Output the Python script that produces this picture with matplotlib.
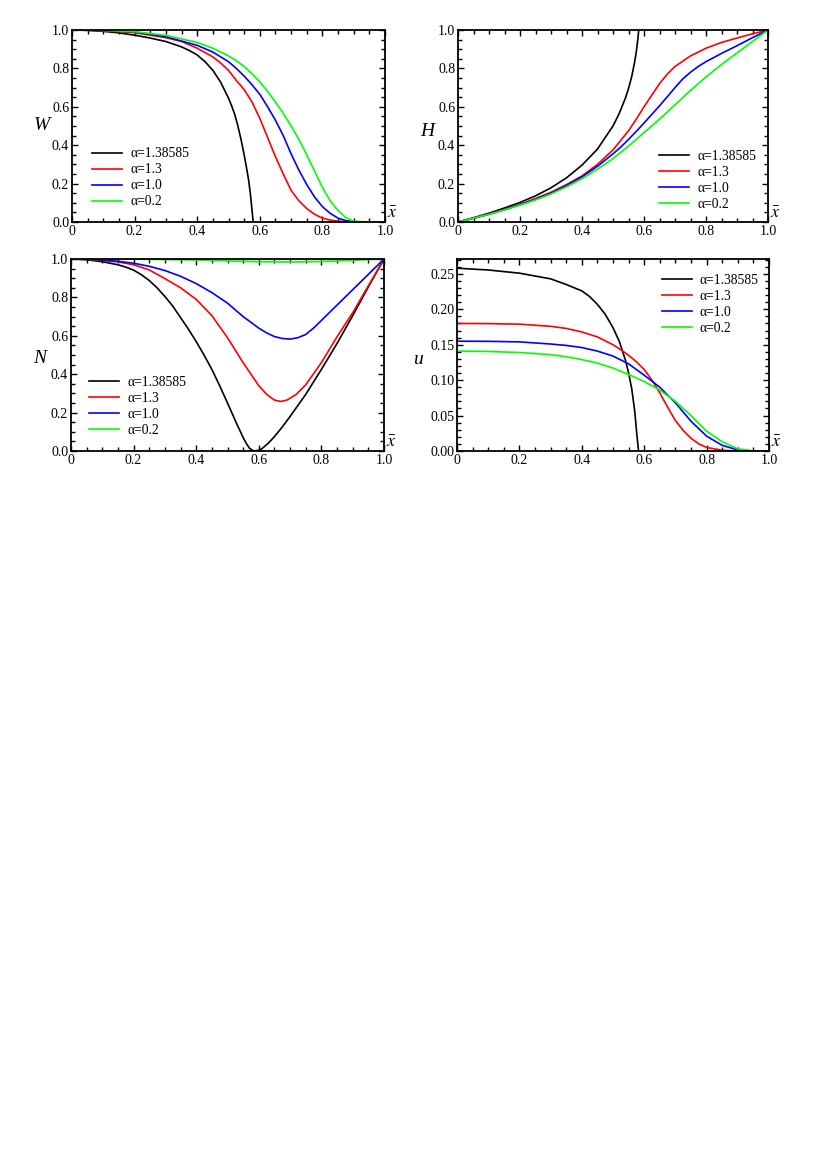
import matplotlib
matplotlib.use('Agg')
import matplotlib.pyplot as plt
from matplotlib.ticker import MultipleLocator, FixedLocator, FixedFormatter

plt.rcParams['font.family'] = ['Liberation Serif', 'DejaVu Serif']
plt.rcParams['mathtext.fontset'] = 'stix'

labels = ['α=1.38585', 'α=1.3', 'α=1.0', 'α=0.2']
colors = ['black', '#ff0000', '#0000ff', '#00ff00']

# ---- W ----
W_x = [
    [0, 0.05, 0.1, 0.15, 0.2, 0.25, 0.3, 0.35, 0.375, 0.4, 0.425, 0.45, 0.475, 0.5, 0.51, 0.52, 0.53, 0.54, 0.55, 0.56, 0.565, 0.57, 0.574, 0.577, 0.579],
    [0, 0.1, 0.2, 0.3, 0.35, 0.4, 0.45, 0.475, 0.5, 0.525, 0.55, 0.575, 0.6, 0.625, 0.65, 0.675, 0.7, 0.725, 0.75, 0.775, 0.8, 0.825, 0.85, 0.9, 1.0],
    [0, 0.1, 0.2, 0.3, 0.4, 0.45, 0.5, 0.525, 0.55, 0.575, 0.6, 0.625, 0.65, 0.675, 0.7, 0.725, 0.75, 0.775, 0.8, 0.825, 0.85, 0.875, 0.9, 1.0],
    [0, 0.1, 0.2, 0.3, 0.4, 0.45, 0.5, 0.525, 0.55, 0.575, 0.6, 0.625, 0.65, 0.675, 0.7, 0.725, 0.75, 0.775, 0.8, 0.825, 0.85, 0.875, 0.9, 0.95, 1.0],
]
W_y = [
    [1, 0.998, 0.993, 0.985, 0.973, 0.958, 0.94, 0.912, 0.893, 0.87, 0.835, 0.79, 0.728, 0.645, 0.605, 0.56, 0.5, 0.43, 0.35, 0.26, 0.21, 0.145, 0.08, 0.03, 0.0],
    [1, 0.997, 0.986, 0.96, 0.94, 0.905, 0.86, 0.828, 0.79, 0.737, 0.69, 0.625, 0.54, 0.44, 0.34, 0.25, 0.165, 0.11, 0.07, 0.04, 0.02, 0.01, 0.004, 0, 0],
    [1, 0.998, 0.99, 0.965, 0.92, 0.885, 0.835, 0.8, 0.76, 0.715, 0.665, 0.6, 0.53, 0.45, 0.355, 0.27, 0.195, 0.13, 0.08, 0.045, 0.02, 0.007, 0.001, 0],
    [1, 0.998, 0.991, 0.972, 0.935, 0.905, 0.865, 0.84, 0.81, 0.772, 0.73, 0.68, 0.625, 0.565, 0.5, 0.43, 0.35, 0.265, 0.18, 0.11, 0.06, 0.022, 0.004, 0, 0],
]

# ---- H ----
H_x = [
    [0, 0.05, 0.1, 0.15, 0.2, 0.25, 0.3, 0.35, 0.4, 0.45, 0.5, 0.52, 0.54, 0.55, 0.56, 0.57, 0.575, 0.58, 0.583],
    [0, 0.05, 0.1, 0.15, 0.2, 0.25, 0.3, 0.35, 0.4, 0.45, 0.5, 0.525, 0.55, 0.575, 0.6, 0.625, 0.65, 0.675, 0.7, 0.75, 0.8, 0.85, 0.9, 0.95, 1.0],
    [0, 0.05, 0.1, 0.15, 0.2, 0.25, 0.3, 0.35, 0.4, 0.45, 0.5, 0.525, 0.55, 0.575, 0.6, 0.625, 0.65, 0.675, 0.7, 0.725, 0.75, 0.775, 0.8, 0.85, 0.9, 0.95, 1.0],
    [0, 0.05, 0.1, 0.15, 0.2, 0.25, 0.3, 0.35, 0.4, 0.45, 0.5, 0.55, 0.6, 0.65, 0.7, 0.75, 0.8, 0.85, 0.9, 0.95, 1.0],
]
H_y = [
    [0, 0.022, 0.046, 0.073, 0.102, 0.136, 0.178, 0.23, 0.296, 0.38, 0.5, 0.565, 0.645, 0.695, 0.755, 0.835, 0.885, 0.95, 1.0],
    [0, 0.02, 0.042, 0.066, 0.092, 0.122, 0.155, 0.195, 0.24, 0.3, 0.375, 0.425, 0.475, 0.535, 0.6, 0.66, 0.72, 0.77, 0.81, 0.865, 0.905, 0.935, 0.958, 0.98, 1.0],
    [0, 0.02, 0.04, 0.064, 0.09, 0.118, 0.15, 0.19, 0.235, 0.29, 0.355, 0.39, 0.43, 0.472, 0.515, 0.56, 0.605, 0.652, 0.7, 0.745, 0.78, 0.81, 0.835, 0.878, 0.918, 0.96, 1.0],
    [0, 0.02, 0.04, 0.063, 0.088, 0.115, 0.146, 0.183, 0.225, 0.275, 0.33, 0.395, 0.465, 0.535, 0.61, 0.685, 0.755, 0.82, 0.88, 0.94, 1.0],
]

# ---- N ----
N_x = [
    [0, 0.05, 0.1, 0.15, 0.175, 0.2, 0.225, 0.25, 0.275, 0.3, 0.325, 0.35, 0.375, 0.4, 0.425, 0.45, 0.475, 0.5, 0.515, 0.53, 0.55, 0.56, 0.57, 0.58, 0.59, 0.6, 0.61, 0.63, 0.65, 0.675, 0.7, 0.75, 0.8, 0.85, 0.9, 0.95, 1.0],
    [0, 0.05, 0.1, 0.15, 0.2, 0.25, 0.3, 0.35, 0.4, 0.45, 0.5, 0.525, 0.55, 0.575, 0.6, 0.625, 0.65, 0.67, 0.69, 0.72, 0.75, 0.8, 0.85, 0.9, 0.95, 1.0],
    [0, 0.05, 0.1, 0.15, 0.2, 0.25, 0.3, 0.35, 0.4, 0.45, 0.5, 0.55, 0.6, 0.625, 0.65, 0.675, 0.7, 0.725, 0.75, 0.775, 0.8, 0.85, 0.9, 0.95, 1.0],
    [0, 0.2, 0.4, 0.5, 0.6, 0.7, 0.8, 0.9, 1.0],
]
N_y = [
    [1, 0.996, 0.986, 0.97, 0.958, 0.942, 0.918, 0.888, 0.85, 0.805, 0.755, 0.695, 0.635, 0.57, 0.5, 0.425, 0.34, 0.25, 0.195, 0.14, 0.07, 0.04, 0.015, 0.003, 0.001, 0.004, 0.012, 0.04, 0.075, 0.125, 0.18, 0.295, 0.425, 0.56, 0.705, 0.855, 1.0],
    [1, 0.998, 0.993, 0.985, 0.97, 0.943, 0.898, 0.85, 0.79, 0.705, 0.59, 0.525, 0.46, 0.4, 0.34, 0.295, 0.265, 0.258, 0.265, 0.295, 0.345, 0.46, 0.595, 0.72, 0.86, 1.0],
    [1, 0.999, 0.995, 0.988, 0.978, 0.962, 0.94, 0.91, 0.872, 0.825, 0.77, 0.7, 0.64, 0.615, 0.596, 0.586, 0.583, 0.59, 0.607, 0.64, 0.68, 0.76, 0.84, 0.92, 1.0],
    [1, 0.999, 0.995, 0.99, 0.986, 0.984, 0.987, 0.993, 1.0],
]

# ---- u ----
u_x = [
    [0, 0.1, 0.2, 0.3, 0.35, 0.4, 0.425, 0.45, 0.475, 0.5, 0.52, 0.54, 0.55, 0.56, 0.57, 0.575, 0.58, 0.582],
    [0, 0.1, 0.2, 0.3, 0.35, 0.4, 0.45, 0.5, 0.525, 0.55, 0.575, 0.6, 0.625, 0.65, 0.675, 0.7, 0.725, 0.75, 0.775, 0.8, 0.85, 0.9, 1.0],
    [0, 0.1, 0.2, 0.3, 0.35, 0.4, 0.45, 0.5, 0.55, 0.6, 0.65, 0.7, 0.75, 0.8, 0.85, 0.9, 0.95, 1.0],
    [0, 0.1, 0.2, 0.3, 0.35, 0.4, 0.45, 0.5, 0.55, 0.6, 0.65, 0.7, 0.75, 0.8, 0.85, 0.9, 0.95, 1.0],
]
u_y = [
    [0.258, 0.2555, 0.251, 0.243, 0.235, 0.226, 0.218, 0.207, 0.193, 0.174, 0.155, 0.128, 0.11, 0.088, 0.055, 0.03, 0.008, 0],
    [0.18, 0.1798, 0.179, 0.176, 0.173, 0.168, 0.161, 0.15, 0.143, 0.135, 0.126, 0.115, 0.1, 0.082, 0.062, 0.043, 0.029, 0.018, 0.01, 0.005, 0.001, 0, 0],
    [0.155, 0.1548, 0.154, 0.151, 0.149, 0.146, 0.141, 0.134, 0.123, 0.107, 0.09, 0.068, 0.042, 0.021, 0.008, 0.0015, 0, 0],
    [0.141, 0.1405, 0.139, 0.136, 0.133, 0.129, 0.124, 0.117, 0.108, 0.098, 0.086, 0.07, 0.05, 0.028, 0.013, 0.003, 0, 0],
]

W_px, H_px = 830, 1174
fig = plt.figure(figsize=(W_px / 100, H_px / 100), dpi=100)

# axes boxes in pixels: left, top, right, bottom
boxes = [(72, 30, 385, 222), (458, 30, 768, 222), (71, 259, 384, 451), (457, 259, 769, 451)]
panels = [
    (W_x, W_y, 'W', (0, 1.0), 0.2, 0.05, (-0.097, 0.505), (0.064, 0.389)),
    (H_x, H_y, 'H', (0, 1.0), 0.2, 0.05, (-0.098, 0.47), (0.649, 0.375)),
    (N_x, N_y, 'N', (0, 1.0), 0.2, 0.05, (-0.101, 0.484), (0.058, 0.393)),
    (u_x, u_y, 'u', (0, 0.271), 0.05, 0.01, (-0.125, 0.474), (0.656, 0.922)),
]

for (l, t, r, b), (xs, ys, name, ylim, ymaj, ymin, ylab, leg) in zip(boxes, panels):
    ax = fig.add_axes([l / W_px, 1 - b / H_px, (r - l) / W_px, (b - t) / H_px])
    for xv, yv, c, lab in zip(xs, ys, colors, labels):
        ax.plot(xv, yv, color=c, lw=1.2, label=lab)
    ax.set_xlim(0, 1.0)
    ax.set_ylim(*ylim)
    ax.xaxis.set_major_locator(FixedLocator([0, 0.2, 0.4, 0.6, 0.8, 1.0]))
    ax.xaxis.set_major_formatter(FixedFormatter(['0', '0.2', '0.4', '0.6', '0.8', '1.0']))
    ax.xaxis.set_minor_locator(MultipleLocator(0.05))
    ax.yaxis.set_major_locator(MultipleLocator(ymaj))
    ax.yaxis.set_minor_locator(MultipleLocator(ymin))
    if name == 'u':
        ax.yaxis.set_major_formatter(plt.FormatStrFormatter('%.2f'))
    else:
        ax.yaxis.set_major_formatter(plt.FormatStrFormatter('%.1f'))
    ax.tick_params(which='both', direction='in', top=True, right=True, labelsize=10, width=1.0)
    ax.tick_params(which='major', length=4.3, pad=2)
    ax.tick_params(which='minor', length=2.6)
    for s in ax.spines.values():
        s.set_linewidth(1.3)
    ax.text(ylab[0], ylab[1], name, transform=ax.transAxes, fontsize=14,
            style='italic', ha='center', va='center')
    ax.text(1.005, 0.0, r'$\bar{x}$', transform=ax.transAxes, fontsize=13,
            ha='left', va='bottom')
    ax.legend(loc='upper left', bbox_to_anchor=leg, frameon=False, borderpad=0,
              borderaxespad=0, handlelength=2.2, handletextpad=0.6,
              labelspacing=0.22, fontsize=9.8)

fig.savefig('out.png', dpi=100)
